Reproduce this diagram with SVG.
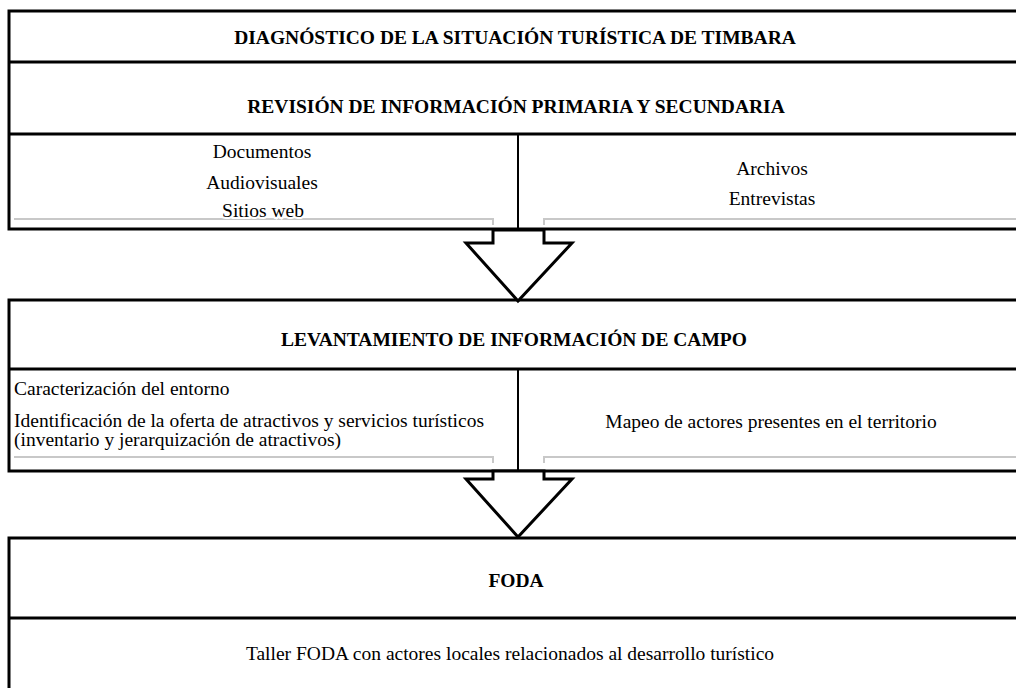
<svg xmlns="http://www.w3.org/2000/svg" width="1016" height="688" viewBox="0 0 1016 688">
<style>
.box{fill:#fff;stroke:#000;stroke-width:3}
.ln{stroke:#000;stroke-width:3;fill:none}
.div{stroke:#000;stroke-width:2;fill:none}
.gray{stroke:#c8c8c8;stroke-width:2;fill:none}
.arrow{fill:#fff;stroke:#000;stroke-width:3;stroke-linejoin:miter}
.t{font-family:"Liberation Serif","Times New Roman",serif;font-size:19.5px;fill:#000}
.b{font-weight:bold}
.c{text-anchor:middle}
.h{paint-order:stroke;stroke:#fff;stroke-width:4}
</style>
<rect width="1016" height="688" fill="#fff"/>
<g id="node-diagnostico">
<rect class="box" x="9" y="11" width="1012" height="218"/>
<line class="ln" x1="9" y1="62" x2="1021" y2="62"/>
<text class="t b c" x="515" y="44">DIAGNÓSTICO DE LA SITUACIÓN TURÍSTICA DE TIMBARA</text>
</g>
<g id="node-revision">
<line class="ln" x1="9" y1="134" x2="1021" y2="134"/>
<text class="t b c" x="516" y="113">REVISIÓN DE INFORMACIÓN PRIMARIA Y SECUNDARIA</text>
<line class="div" x1="518" y1="134" x2="518" y2="229"/>
<polyline class="gray" points="14,219 493,219 493,225"/>
<polyline class="gray" points="544,225 544,219 1021,219"/>
<text class="t c" x="262" y="158">Documentos</text>
<text class="t c" x="262" y="189">Audiovisuales</text>
<text class="t c h" x="263" y="217">Sitios web</text>
<text class="t c" x="772" y="175">Archivos</text>
<text class="t c" x="772" y="205">Entrevistas</text>
</g>
<g id="node-levantamiento">
<rect class="box" x="9" y="300" width="1012" height="171"/>
<line class="ln" x1="9" y1="369" x2="1021" y2="369"/>
<text class="t b c" x="514" y="346">LEVANTAMIENTO DE INFORMACIÓN DE CAMPO</text>
<line class="div" x1="518" y1="369" x2="518" y2="471"/>
<polyline class="gray" points="14,457 493,457 493,463"/>
<polyline class="gray" points="544,463 544,457 1021,457"/>
<text class="t" x="14" y="395">Caracterización del entorno</text>
<text class="t" x="14" y="427">Identificación de la oferta de atractivos y servicios turísticos</text>
<text class="t h" x="14" y="446">(inventario y jerarquización de atractivos)</text>
<text class="t c" x="771" y="428">Mapeo de actores presentes en el territorio</text>
</g>
<g id="node-foda">
<rect class="box" x="9" y="538" width="1012" height="170"/>
<line class="ln" x1="9" y1="618" x2="1021" y2="618"/>
<text class="t b c" x="516" y="587">FODA</text>
<text class="t c" x="510" y="660">Taller FODA con actores locales relacionados al desarrollo turístico</text>
</g>
<g id="connectors">
<polygon class="arrow" points="493,230 493,243 466,243 518,301 572,243 544,243 544,230"/>
<polygon class="arrow" points="493,471 493,479 466,479 518,537 572,479 544,479 544,471"/>
</g>
</svg>
